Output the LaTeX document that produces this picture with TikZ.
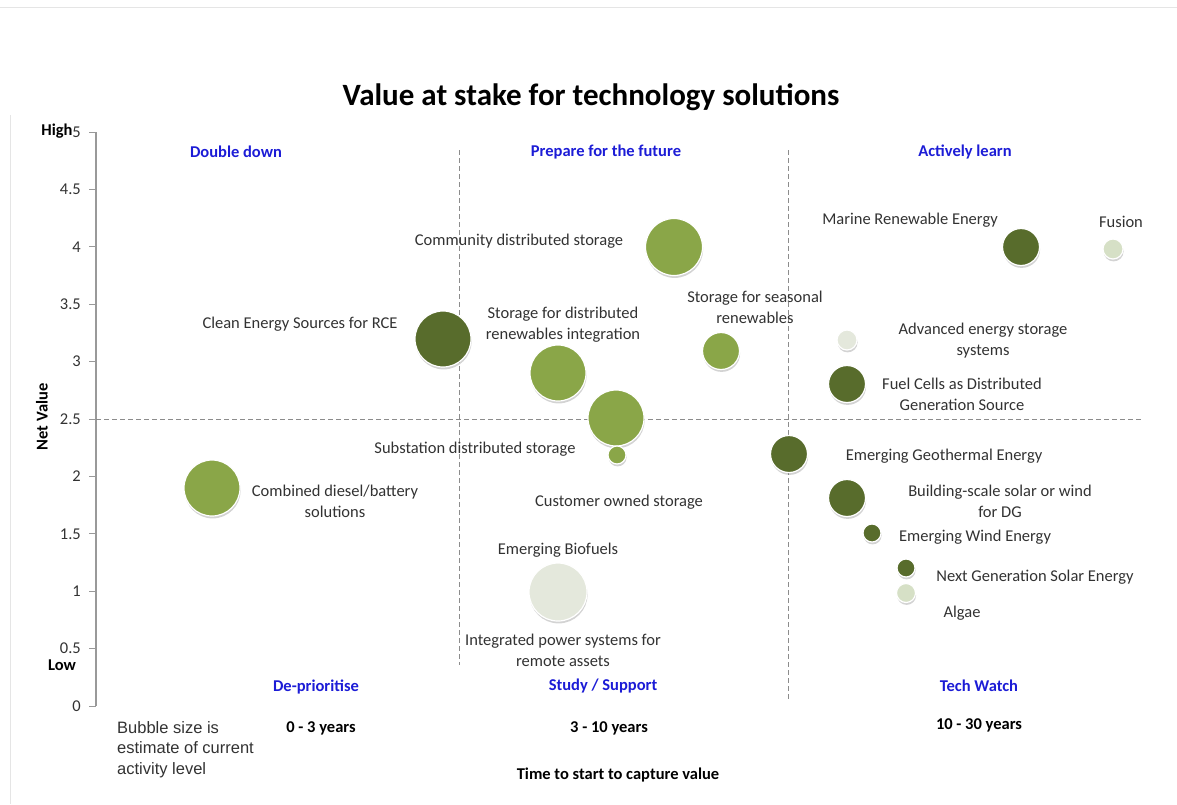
\documentclass[tikz,border=0pt]{standalone}
\usepackage{fontspec}
\setmainfont{Carlito}
\newfontfamily\arialfont{Liberation Sans}
\usetikzlibrary{shadows}

\definecolor{OliveDark}{RGB}{88,108,44}
\definecolor{OliveMid}{RGB}{138,166,72}
\definecolor{OlivePale}{RGB}{228,232,220}
\definecolor{OliveTint}{RGB}{214,224,198}
\definecolor{QuadBlue}{RGB}{28,28,214}
\definecolor{LabelGray}{RGB}{50,50,50}

\begin{document}
\begin{tikzpicture}[x = 1pt, y = -1pt]
     \tikzset{Bubble/.style   = {circle, inner sep = 0pt, minimum size = #1,
                                 draw = white, line width = 1.2pt,
                                 drop shadow = {shadow xshift = 0.6pt,
                                                shadow yshift = -2.4pt,
                                                opacity = 0.35}},
              Tech/.style     = {font = \fontsize{16.5}{21}\selectfont,
                                 text = LabelGray, align = center, inner sep = 0pt},
              Quadrant/.style = {font = \fontsize{16.5}{20}\selectfont\bfseries,
                                 text = QuadBlue, inner sep = 0pt},
              Horizon/.style  = {font = \fontsize{16.5}{20}\selectfont\bfseries,
                                 inner sep = 0pt},
              Divider/.style  = {gray!90, line width = 0.9pt,
                                 dash pattern = on 5pt off 3pt}}
     \useasboundingbox (0,0) rectangle (1177,804);
     % cadre
     \draw[black!10, line width = 1pt] (0,7) -- (1177,7);
     \draw[black!10, line width = 1pt] (10,115) -- (10,804);
     % titre
     \node[font = \fontsize{31}{36}\selectfont\bfseries, anchor = base]
          (title) at (591,105) {Value at stake for technology solutions};
     % axe des valeurs
     \draw[black!40, line width = 1.3pt] (96,132) -- (96,706);
     \foreach \v [count = \i] in {0,0.5,1,1.5,2,2.5,3,3.5,4,4.5,5}{
        \draw[black!40, line width = 1pt] (89,{706-114.8*\v}) -- (96,{706-114.8*\v});
        \node[font = \fontsize{16.5}{20}\selectfont, text = LabelGray,
              anchor = east, inner sep = 0pt] (tick\i) at (81,{706-114.8*\v}) {\v};
     }
     \node[Horizon] (high) at (57,131) {High};
     \node[Horizon] (low)  at (62,665) {Low};
     \node[Horizon, rotate = 90] (netvalue) at (42,417) {Net Value};
     % quadrants
     \draw[Divider] (96,419) -- (1143,419);
     \draw[Divider] (459,150) -- (459,665);
     \draw[Divider] (788,150) -- (788,700);
     \node[Quadrant] (doubledown) at (236,152) {Double down};
     \node[Quadrant] (prepare)    at (606,152) {Prepare for the future};
     \node[Quadrant] (learn)      at (965,152) {Actively learn};
     \node[Quadrant] (deprio)     at (316,687) {De-prioritise};
     \node[Quadrant] (study)      at (603,686) {Study / Support};
     \node[Quadrant] (watch)      at (979,686) {Tech Watch};
     % horizons
     \node[Horizon] (short)  at (321,728) {0 - 3 years};
     \node[Horizon] (medium) at (609,728) {3 - 10 years};
     \node[Horizon] (long)   at (979,725) {10 - 30 years};
     \node[Horizon] (timeaxis) at (618,775) {Time to start to capture value};
     \node[font = \arialfont\fontsize{16.5}{20.5}\selectfont, text = LabelGray,
           align = left, anchor = north west, inner sep = 0pt]
          (legend) at (117,721) {Bubble size is\\estimate of current\\activity level};
     % bulles
     \node[Bubble = 56pt, fill = OliveDark] (rce)        at (443,339) {};
     \node[Bubble = 57pt, fill = OliveMid]  (community)  at (674,247) {};
     \node[Bubble = 56pt, fill = OliveMid]  (integr)     at (558,373) {};
     \node[Bubble = 56pt, fill = OliveMid]  (substation) at (616,418) {};
     \node[Bubble = 18pt, fill = OliveMid]  (customer)   at (617,455) {};
     \node[Bubble = 37pt, fill = OliveMid]  (seasonal)   at (721,351) {};
     \node[Bubble = 56pt, fill = OliveMid]  (diesel)     at (212,488) {};
     \node[Bubble = 58pt, fill = OlivePale] (biofuels)   at (558,592) {};
     \node[Bubble = 37pt, fill = OliveDark] (geothermal) at (789,454) {};
     \node[Bubble = 37pt, fill = OliveDark] (marine)     at (1021,247) {};
     \node[Bubble = 20pt, fill = OliveTint] (fusion)     at (1113,249) {};
     \node[Bubble = 20pt, fill = OlivePale] (advanced)   at (847,340) {};
     \node[Bubble = 37pt, fill = OliveDark] (fuelcells)  at (847,384) {};
     \node[Bubble = 37pt, fill = OliveDark] (building)   at (847,498) {};
     \node[Bubble = 18pt, fill = OliveDark] (wind)       at (872,533) {};
     \node[Bubble = 18pt, fill = OliveDark] (solar)      at (906,568) {};
     \node[Bubble = 19pt, fill = OliveTint] (algae)      at (906,593) {};
     % etiquettes
     \node[Tech] (rceLab)        at (300,324)  {Clean Energy Sources for RCE};
     \node[Tech] (communityLab)  at (519,241)  {Community distributed storage};
     \node[Tech] (integrLab)     at (563,325)  {Storage for distributed\\renewables integration};
     \node[Tech] (seasonalLab)   at (755,307)  {Storage for seasonal\\renewables};
     \node[Tech] (substationLab) at (475,449)  {Substation distributed storage};
     \node[Tech] (customerLab)   at (619,502)  {Customer owned storage};
     \node[Tech] (dieselLab)     at (335,501)  {Combined diesel/battery\\solutions};
     \node[Tech] (biofuelsLab)   at (558,550)  {Emerging Biofuels};
     \node[Tech] (remoteLab)     at (563,650)  {Integrated power systems for\\remote assets};
     \node[Tech] (marineLab)     at (910,220)  {Marine Renewable Energy};
     \node[Tech] (fusionLab)     at (1121,222) {Fusion};
     \node[Tech] (advancedLab)   at (983,341)  {Advanced energy storage\\systems};
     \node[Tech] (fuelcellsLab)  at (962,394)  {Fuel Cells as Distributed\\Generation Source};
     \node[Tech] (geothermalLab) at (944,456)  {Emerging Geothermal Energy};
     \node[Tech] (buildingLab)   at (1000,501) {Building-scale solar or wind\\for DG};
     \node[Tech] (windLab)       at (975,537)  {Emerging Wind Energy};
     \node[Tech] (solarLab)      at (1035,577) {Next Generation Solar Energy};
     \node[Tech] (algaeLab)      at (962,613)  {Algae};
  \end{tikzpicture}
\end{document}
